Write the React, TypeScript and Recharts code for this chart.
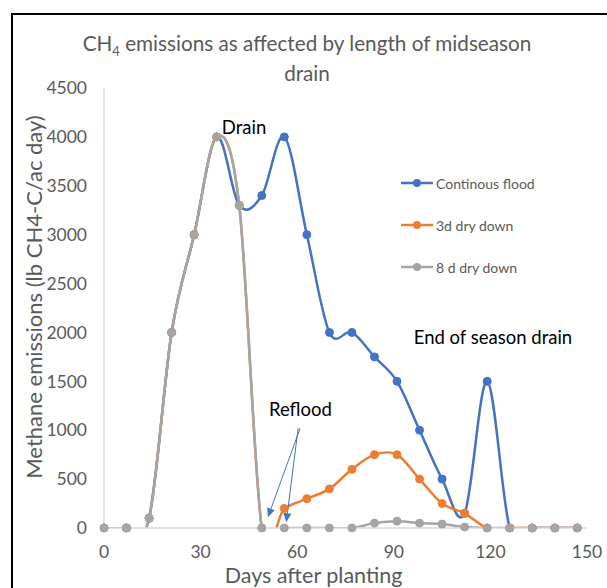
import React from 'react';
import {
  LineChart,
  Line,
  XAxis,
  YAxis,
  Legend,
  ReferenceDot,
  ReferenceLine,
} from 'recharts';

const days = [0, 7, 14, 21, 28, 35, 42, 49, 56, 63, 70, 77, 84, 91, 98, 105, 112, 119, 126, 133, 140, 147];
const continuousFlood = [0, 0, 100, 2000, 3000, 4000, 3300, 3400, 4000, 3000, 2000, 2000, 1750, 1500, 1000, 500, 150, 1500, 0, 0, 0, 0];
const dryDown3d = [0, 0, 100, 2000, 3000, 4000, 3300, 0, 200, 300, 400, 600, 750, 750, 500, 250, 150, 0, 0, 0, 0, 0];
const dryDown8d = [0, 0, 100, 2000, 3000, 4000, 3300, 0, 0, 0, 0, 0, 50, 70, 50, 40, 10, 0, 0, 0, 0, 0];
const seriesNames = ['Continous flood', '3d dry down', '8 d dry down'];
const xTicks = [0, 30, 60, 90, 120, 150];
const yTicks = [0, 500, 1000, 1500, 2000, 2500, 3000, 3500, 4000, 4500];

const data = days.map((d, i) => ({
  day: d,
  cf: continuousFlood[i],
  d3: dryDown3d[i],
  d8: dryDown8d[i],
}));

const FONT = 'Lato, "Open Sans", sans-serif';
const TEXT = '#595959';
const BLUE = '#4472C4';
const ORANGE = '#ED7D31';
const GRAY = '#A5A5A5';

// Excel-like smoothed line (Catmull-Rom through the points)
const excelSmooth = (context: any) => {
  let pts: number[][] = [];
  return {
    areaStart() {},
    areaEnd() {},
    lineStart() {
      pts = [];
    },
    point(x: number, y: number) {
      pts.push([+x, +y]);
    },
    lineEnd() {
      const n = pts.length;
      if (!n) return;
      context.moveTo(pts[0][0], pts[0][1]);
      for (let i = 0; i < n - 1; i++) {
        const p0 = pts[i - 1] || pts[i];
        const p1 = pts[i];
        const p2 = pts[i + 1];
        const p3 = pts[i + 2] || p2;
        context.bezierCurveTo(
          p1[0] + (p2[0] - p0[0]) / 6,
          p1[1] + (p2[1] - p0[1]) / 6,
          p2[0] - (p3[0] - p1[0]) / 6,
          p2[1] - (p3[1] - p1[1]) / 6,
          p2[0],
          p2[1]
        );
      }
    },
  };
};

const renderLegend = ({ payload }: any) => {
  const items = [...(payload || [])].sort(
    (a: any, b: any) => seriesNames.indexOf(a.value) - seriesNames.indexOf(b.value)
  );
  return (
    <div>
      {items.map((e: any) => (
        <div key={e.value} style={{ display: 'flex', alignItems: 'center', height: 42 }}>
          <svg width={34} height={12}>
            <line x1={1} y1={6} x2={33} y2={6} stroke={e.color} strokeWidth={2.5} />
            <circle cx={17} cy={6} r={4} fill={e.color} />
          </svg>
          <span style={{ marginLeft: 2, fontFamily: FONT, fontSize: 14, color: TEXT }}>{e.value}</span>
        </div>
      ))}
    </div>
  );
};

const arrowShape = (p: any) => {
  const { x1, y1, x2, y2 } = p;
  const ang = Math.atan2(y2 - y1, x2 - x1);
  const len = 9;
  const w = 4;
  const bx = x2 - len * Math.cos(ang);
  const by = y2 - len * Math.sin(ang);
  const px = -Math.sin(ang) * w;
  const py = Math.cos(ang) * w;
  return (
    <g>
      <line x1={x1} y1={y1} x2={bx} y2={by} stroke={BLUE} strokeWidth={1} />
      <polygon points={`${x2},${y2} ${bx + px},${by + py} ${bx - px},${by - py}`} fill={BLUE} />
    </g>
  );
};

const note = (label: string, size: number) => (p: any) => (
  <text x={p.cx} y={p.cy} textAnchor="middle" dominantBaseline="central" fontFamily={FONT} fontSize={size} fill="#000">
    {label}
  </text>
);

export default function App() {
  return (
    <div style={{ position: 'absolute', left: 0, top: 0, width: 607, height: 588, overflow: 'hidden', background: '#fff' }}>
      <div style={{ position: 'absolute', left: 11, top: 13, width: 700, height: 700, border: '2px solid #000' }} />
      <div
        style={{
          position: 'absolute',
          left: 7,
          width: 600,
          top: 30,
          textAlign: 'center',
          fontFamily: FONT,
          fontSize: 20.7,
          lineHeight: '27px',
          color: TEXT,
        }}
      >
        CH<sub style={{ fontSize: 13, verticalAlign: 'baseline', position: 'relative', top: 5 }}>4</sub> emissions as affected by length of midseason
        <br />
        drain
      </div>
      <div style={{ position: 'absolute', left: 0, top: 0 }}>
        <LineChart width={607} height={588} data={data} margin={{ top: 88, right: 20, bottom: 30, left: 10 }}>
          <XAxis
            dataKey="day"
            type="number"
            domain={[0, 150]}
            ticks={xTicks}
            height={30}
            stroke="#D9D9D9"
            strokeWidth={1.5}
            tickLine={false}
            tickSize={0}
            tickMargin={18}
            tick={{ fill: TEXT, fontSize: 17.5, fontFamily: FONT }}
            label={{ value: 'Days after planting', position: 'insideBottom', offset: -25, dx: -32, fill: TEXT, fontSize: 21.5, fontFamily: FONT }}
          />
          <YAxis
            type="number"
            domain={[0, 4500]}
            ticks={yTicks}
            allowDataOverflow
            width={94}
            stroke="#D9D9D9"
            strokeWidth={1.5}
            tickLine={false}
            tickSize={0}
            tickMargin={17}
            tick={{ fill: TEXT, fontSize: 17.5, fontFamily: FONT }}
            label={{
              value: 'Methane emissions (lb CH4-C/ac day)',
              angle: -90,
              position: 'center',
              dx: -23,
              dy: -11,
              fill: TEXT,
              fontSize: 22,
              fontFamily: FONT,
            }}
          />
          <Legend
            layout="vertical"
            align="center"
            verticalAlign="middle"
            content={renderLegend}
            wrapperStyle={{ left: 400, top: 162, width: 170 }}
          />
          <Line
            name={seriesNames[0]}
            dataKey="cf"
            type={excelSmooth as any}
            stroke={BLUE}
            strokeWidth={2.5}
            dot={{ r: 4, fill: BLUE, stroke: BLUE, strokeWidth: 1, clipDot: false } as any}
            activeDot={false}
            isAnimationActive={false}
          />
          <Line
            name={seriesNames[1]}
            dataKey="d3"
            type={excelSmooth as any}
            stroke={ORANGE}
            strokeWidth={2.5}
            dot={{ r: 4, fill: ORANGE, stroke: ORANGE, strokeWidth: 1, clipDot: false } as any}
            activeDot={false}
            isAnimationActive={false}
          />
          <Line
            name={seriesNames[2]}
            dataKey="d8"
            type={excelSmooth as any}
            stroke={GRAY}
            strokeWidth={2.5}
            dot={{ r: 4, fill: GRAY, stroke: GRAY, strokeWidth: 1, clipDot: false } as any}
            activeDot={false}
            isAnimationActive={false}
          />
          <ReferenceLine segment={[{ x: 60.9, y: 1020 }, { x: 50.9, y: 110 }]} shape={arrowShape} ifOverflow="visible" />
          <ReferenceLine segment={[{ x: 60.3, y: 1020 }, { x: 56.6, y: 60 }]} shape={arrowShape} ifOverflow="visible" />
          <ReferenceDot x={43.5} y={4100} r={0} shape={note('Drain', 18.5)} ifOverflow="visible" />
          <ReferenceDot x={61} y={1220} r={0} shape={note('Reflood', 18.5)} ifOverflow="visible" />
          <ReferenceDot x={120.8} y={1950} r={0} shape={note('End of season drain', 18.5)} ifOverflow="visible" />
        </LineChart>
      </div>
    </div>
  );
}
